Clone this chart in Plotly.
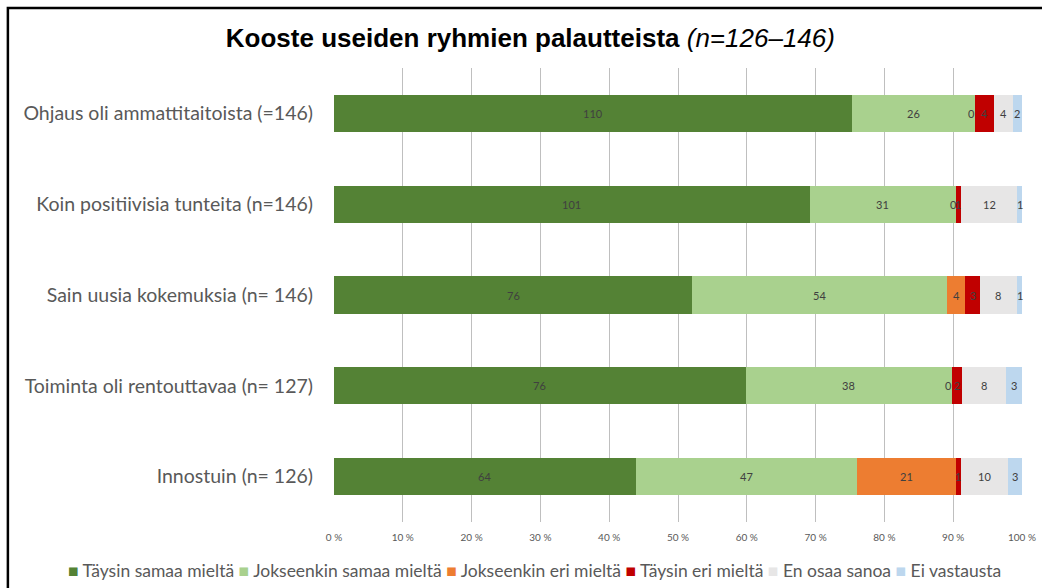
import plotly.graph_objects as go

categories = [
    "Ohjaus oli ammattitaitoista (=146)",
    "Koin positiivisia tunteita (n=146)",
    "Sain uusia kokemuksia (n= 146)",
    "Toiminta oli rentouttavaa (n= 127)",
    "Innostuin (n= 126)",
]
series_names = [
    "Täysin samaa mieltä",
    "Jokseenkin samaa mieltä",
    "Jokseenkin eri mieltä",
    "Täysin eri mieltä",
    "En osaa sanoa",
    "Ei vastausta",
]
colors = ["#548235", "#A9D18E", "#ED7D31", "#C00000", "#E7E6E6", "#BDD7EE"]

# counts per category, one list per answer option
taysin_samaa = [110, 101, 76, 76, 64]
jokseenkin_samaa = [26, 31, 54, 38, 47]
jokseenkin_eri = [0, 0, 4, 0, 21]
taysin_eri = [4, 1, 3, 2, 1]
en_osaa = [4, 12, 8, 8, 10]
ei_vastausta = [2, 1, 1, 3, 3]

counts = [taysin_samaa, jokseenkin_samaa, jokseenkin_eri, taysin_eri, en_osaa, ei_vastausta]
totals = [sum(c[i] for c in counts) for i in range(len(categories))]
shares = [[v / totals[i] * 100 for i, v in enumerate(c)] for c in counts]

fig = go.Figure()
for name, col, s in zip(series_names, colors, shares):
    fig.add_trace(go.Bar(y=categories, x=s, name=name, orientation="h",
                         marker=dict(color=col, line=dict(width=0)),
                         showlegend=False, hoverinfo="skip"))

# data labels centred on each segment (Excel style, also for zeros)
for i, cat in enumerate(categories):
    left = 0
    for c, s in zip(counts, shares):
        fig.add_annotation(x=left + s[i] / 2, y=cat, text=str(c[i]), showarrow=False,
                           xshift=-3 if c[i] == 0 else 0,
                           font=dict(family="Lato", size=11, color="#404040"))
        left += s[i]

# legend as one line of text, like the original
legend_text = " ".join(
    f'<span style="color:{c}">■</span> {n}' for n, c in zip(series_names, colors))
fig.add_annotation(xref="paper", yref="paper", x=0.291, y=-0.106, text=legend_text,
                   showarrow=False, xanchor="center", yanchor="middle",
                   font=dict(family="Lato", size=17.5, color="#595959"))

# frame around the chart
fig.add_shape(type="rect", xref="paper", yref="paper", x0=-0.474, x1=1.05, y0=-0.2, y1=1.132,
              line=dict(color="black", width=2.5), layer="above")

fig.update_layout(
    width=1042, height=588,
    barmode="stack", bargap=0.59,
    plot_bgcolor="white", paper_bgcolor="white",
    margin=dict(l=334, r=20, t=68, b=66, autoexpand=False),
    title=dict(text="<b>Kooste useiden ryhmien palautteista</b> <i>(n=126–146)</i>",
               x=0.509, y=0.935, xanchor="center", yanchor="middle", xref="container",
               font=dict(family="Liberation Sans", size=26, color="black")),
    xaxis=dict(range=[0, 100], dtick=10, ticksuffix=" %", showgrid=True, automargin=False,
               gridcolor="#BFBFBF", gridwidth=1, zeroline=False, showline=False,
               tickfont=dict(family="Lato", size=10, color="#595959"), ticklabelstandoff=8,
               fixedrange=True),
    yaxis=dict(autorange="reversed", showgrid=False, showline=False, zeroline=False,
               automargin=False,
               tickfont=dict(family="Lato", size=19.5, color="#595959"), ticklabelstandoff=20,
               fixedrange=True),
)

fig.write_html("out.html", config={"displayModeBar": False},
               post_script="document.body.style.margin='0';")
